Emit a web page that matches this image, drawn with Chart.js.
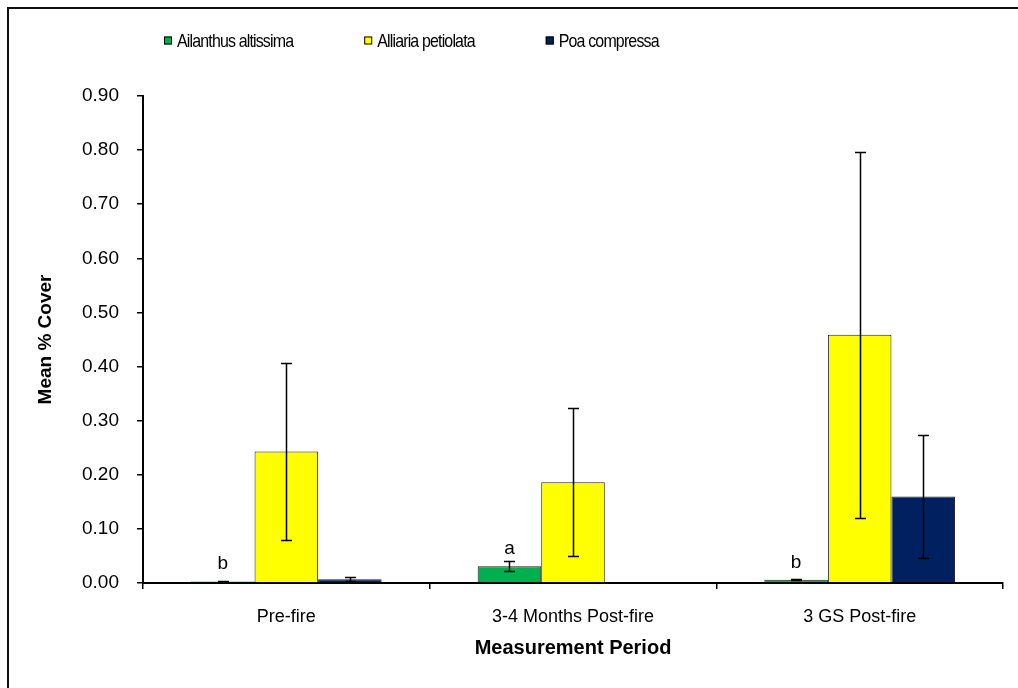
<!DOCTYPE html>
<html>
<head>
<meta charset="utf-8">
<script src="https://cdn.jsdelivr.net/npm/chart.js@4/dist/chart.umd.min.js"></script>
<style>
  html, body { margin: 0; padding: 0; background: #fff; }
  canvas { display: block; }
</style>
</head>
<body>
<canvas id="chart" width="1018" height="688"></canvas>
<script>
// Measurement periods on the x axis
const categories = ['Pre-fire', '3-4 Months Post-fire', '3 GS Post-fire'];

// Mean % cover per species and its error (half-length of the error bar)
const ailanthusMean = [0.003, 0.031, 0.006];
const ailanthusErr  = [0.001, 0.009, 0.001];
const alliariaMean  = [0.243, 0.186, 0.459];
const alliariaErr   = [0.164, 0.137, 0.338];
const poaMean       = [0.007, 0.000, 0.160];
const poaErr        = [0.004, 0.000, 0.113];

// Significance letters shown above the Ailanthus bars
const ailanthusLetters = ['b', 'a', 'b'];

// Species names and fills
const speciesNames  = ['Ailanthus altissima', 'Alliaria petiolata', 'Poa compressa'];
const speciesColors = ['#00B050', '#FFFF00', '#002060'];

// Y axis range
const yMin = 0, yMax = 0.9, yStep = 0.1;

const FONT = "'Liberation Sans', Arial, sans-serif";
const errorSets = [ailanthusErr, alliariaErr, poaErr];

// White background plus the partial outer frame
const framePlugin = {
  id: 'frame',
  beforeDraw(chart) {
    const ctx = chart.ctx;
    ctx.save();
    ctx.fillStyle = '#fff';
    ctx.fillRect(0, 0, chart.width, chart.height);
    ctx.restore();
  },
  afterDraw(chart) {
    const ctx = chart.ctx;
    ctx.save();
    ctx.strokeStyle = '#111';
    ctx.lineWidth = 2;
    ctx.beginPath();
    ctx.moveTo(8, chart.height);
    ctx.lineTo(8, 8);
    ctx.lineTo(chart.width, 8);
    ctx.stroke();
    ctx.restore();
  }
};

// Vertical error bars with caps
const errorBarPlugin = {
  id: 'errorBars',
  afterDatasetsDraw(chart) {
    const ctx = chart.ctx;
    const y = chart.scales.y;
    ctx.save();
    ctx.strokeStyle = '#000';
    ctx.lineWidth = 1.5;
    chart.data.datasets.forEach((ds, i) => {
      const meta = chart.getDatasetMeta(i);
      const errs = errorSets[i];
      meta.data.forEach((bar, j) => {
        const e = errs[j];
        if (!e) return;
        const v = ds.data[j];
        const yTop = Math.round(y.getPixelForValue(v + e)) + 0.5;
        const yBot = Math.round(y.getPixelForValue(Math.max(0, v - e))) + 0.5;
        const x = Math.round(bar.x) + 0.5;
        const cap = 5.5;
        ctx.beginPath();
        ctx.moveTo(x, yTop); ctx.lineTo(x, yBot);
        ctx.moveTo(x - cap, yTop); ctx.lineTo(x + cap, yTop);
        ctx.moveTo(x - cap, yBot); ctx.lineTo(x + cap, yBot);
        ctx.stroke();
      });
    });
    ctx.restore();
  }
};

// Letters above the first species' bars
const letterPlugin = {
  id: 'letters',
  afterDatasetsDraw(chart) {
    const ctx = chart.ctx;
    const meta = chart.getDatasetMeta(0);
    ctx.save();
    ctx.fillStyle = '#000';
    ctx.font = '19px ' + FONT;
    ctx.textAlign = 'center';
    ctx.textBaseline = 'alphabetic';
    meta.data.forEach((bar, j) => {
      ctx.fillText(ailanthusLetters[j], bar.x, bar.y - 12);
    });
    ctx.restore();
  }
};

// Legend row along the top: small boxed swatch, tightly spaced label
const legendPlugin = {
  id: 'topLegend',
  afterDraw(chart) {
    const ctx = chart.ctx;
    const squeeze = 0.84;
    let x = 164;
    const cy = 41;
    ctx.save();
    ctx.font = '19px ' + FONT;
    ctx.letterSpacing = '-1px';
    ctx.textBaseline = 'middle';
    chart.data.datasets.forEach((ds) => {
      ctx.fillStyle = ds.backgroundColor;
      ctx.fillRect(x, cy - 4.5, 8, 8);
      ctx.strokeStyle = '#000';
      ctx.lineWidth = 1;
      ctx.strokeRect(x + 0.5, cy - 4, 7, 7);
      const tx = x + 13;
      const w = ctx.measureText(ds.label).width * squeeze;
      ctx.save();
      ctx.translate(tx, cy + 1);
      ctx.scale(squeeze, 1);
      ctx.fillStyle = '#000';
      ctx.fillText(ds.label, 0, 0);
      ctx.restore();
      x = tx + w + 71;
    });
    ctx.restore();
  }
};

new Chart(document.getElementById('chart'), {
  type: 'bar',
  data: {
    labels: categories,
    datasets: [ailanthusMean, alliariaMean, poaMean].map((d, i) => ({
      label: speciesNames[i],
      data: d,
      backgroundColor: speciesColors[i],
      borderColor: '#222',
      borderWidth: 1,
      categoryPercentage: 0.665,
      barPercentage: 1.0
    }))
  },
  options: {
    responsive: false,
    animation: false,
    events: [],
    layout: { padding: { top: 96, left: 34, right: 15, bottom: 28 } },
    plugins: {
      legend: { display: false },
      tooltip: { enabled: false }
    },
    scales: {
      x: {
        afterFit(scale) { scale.height = 77; },
        grid: {
          offset: true,
          drawOnChartArea: false,
          drawTicks: true,
          tickLength: 6,
          color: '#000',
          lineWidth: 1.5
        },
        border: { display: true, color: '#000', width: 2 },
        ticks: {
          color: '#000',
          font: { family: FONT, size: 18 },
          padding: 17,
          maxRotation: 0
        },
        title: {
          display: true,
          text: 'Measurement Period',
          color: '#000',
          font: { family: FONT, size: 20, weight: 'bold' },
          padding: 0
        }
      },
      y: {
        min: yMin,
        max: yMax,
        afterFit(scale) { scale.width = 109; },
        grid: {
          drawOnChartArea: false,
          drawTicks: true,
          tickLength: 6,
          color: '#000',
          lineWidth: 1.5
        },
        border: { display: true, color: '#000', width: 2 },
        ticks: {
          stepSize: yStep,
          color: '#000',
          font: { family: FONT, size: 19 },
          padding: 18,
          callback: (v) => Number(v).toFixed(2)
        },
        title: {
          display: true,
          text: 'Mean % Cover',
          color: '#000',
          font: { family: FONT, size: 19, weight: 'bold' },
          padding: 0
        }
      }
    }
  },
  plugins: [framePlugin, errorBarPlugin, letterPlugin, legendPlugin]
});
</script>
</body>
</html>
